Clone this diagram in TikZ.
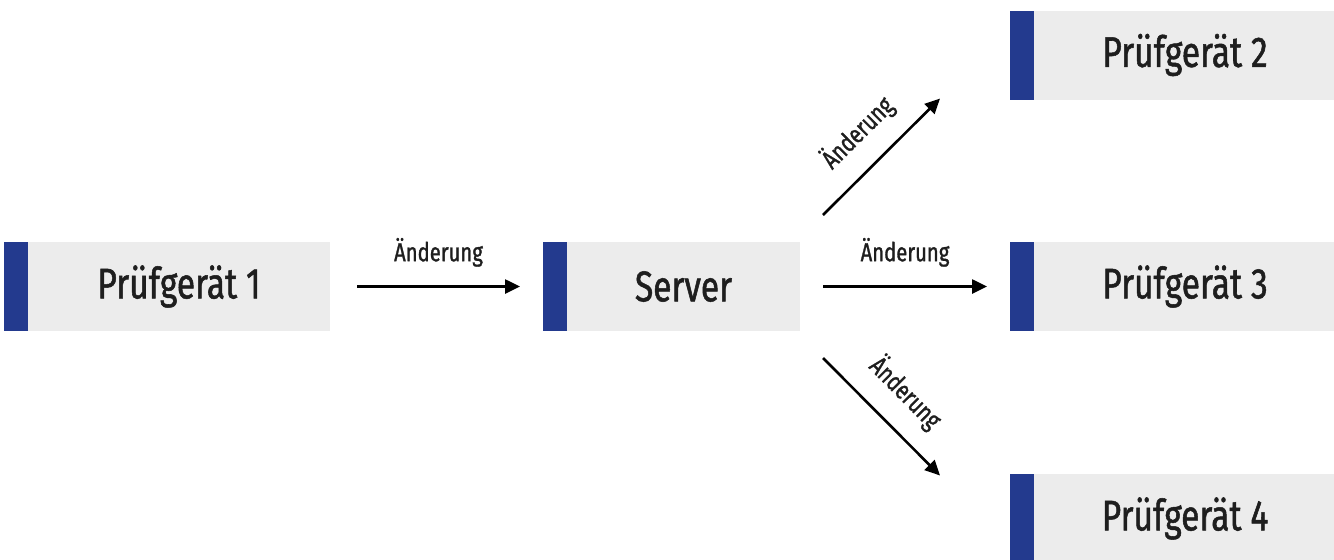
\documentclass[tikz,border=0pt]{standalone}
\usepackage{fontspec}
\setmainfont{Fira Sans}[FakeStretch=0.78, FakeBold=1.2]
\usetikzlibrary{positioning,arrows.meta}

\definecolor{kastengrau}{HTML}{ECECEC}
\definecolor{balkenblau}{HTML}{233A8E}
\definecolor{schrift}{HTML}{1E1E1E}

\tikzset{
	balken/.style={fill=balkenblau, minimum width=12pt, minimum height=44.5pt, inner sep=0pt, outer sep=0pt},
	geraet/.style={fill=kastengrau, text=schrift, minimum width=151pt, minimum height=44.5pt,
		inner sep=0pt, outer sep=0pt, font=\fontsize{21.5}{24}\selectfont,
		label distance=0pt, label={[balken]left:{}}},
	pfeil/.style={draw=black, line width=1.3pt, -{Triangle[length=7.5pt,width=7pt]}},
	aenderung/.style={midway, sloped, above=12pt, inner sep=0pt, text depth=0pt,
		text=schrift, font=\fontsize{13}{15}\selectfont},
}

\begin{document}
\begin{tikzpicture}
	\useasboundingbox (0,0) rectangle (667pt,-279.5pt);
	
	\node [geraet] (pg1) at (89.5pt,-143.25pt) {Prüfgerät 1};
	\node [geraet, minimum width=116.5pt, right = 118.5pt of pg1] (server) {Server};
	\node [geraet, right = 117pt of server] (pg3) {Prüfgerät 3};
	\node [geraet, above = 71.25pt of pg3] (pg2) {Prüfgerät 2};
	\node [geraet, below = 71.5pt of pg3] (pg4) {Prüfgerät 4};
	
	\coordinate (s2) at ([shift={(11.5pt,35.75pt)}]server.east);
	\coordinate (e2) at ([shift={(-47pt,0.5pt)}]pg2.south west);
	\coordinate (s4) at ([shift={(11.5pt,-35.75pt)}]server.east);
	\coordinate (e4) at ([shift={(-47pt,-0.75pt)}]pg4.north west);
	
	\draw [pfeil] ([xshift=13.5pt]pg1.east) -- node [aenderung] {Änderung} ([xshift=-23.5pt]server.west);
	\draw [pfeil] ([xshift=11.5pt]server.east) -- node [aenderung] {Änderung} ([xshift=-23.5pt]pg3.west);
	\draw [pfeil] (s2) -- node [aenderung] {Änderung} (e2);
	\draw [pfeil] (s4) -- node [aenderung] {Änderung} (e4);
\end{tikzpicture}
\end{document}
